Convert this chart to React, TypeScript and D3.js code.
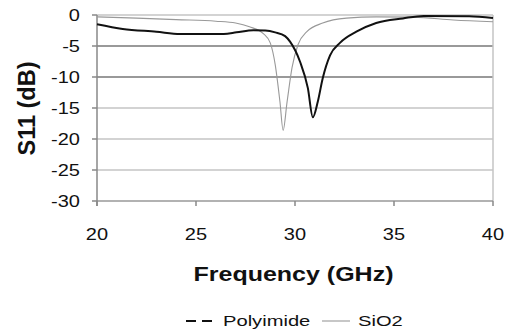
import { scaleLinear, line, curveMonotoneX } from 'd3';

// S11 traces
const polyFreq = [20, 21.3, 23, 24.2, 26.4, 27.05, 27.9, 28.5, 29, 29.5, 29.75, 30.25, 30.65, 30.9, 31.15, 31.4, 31.77, 32.27, 33.1, 34.1, 35.45, 36.5, 38.8, 40];
const polyS11 = [-1.5, -2.25, -2.7, -3.05, -3.05, -2.8, -2.45, -2.5, -2.8, -3.4, -4.3, -7.5, -11.8, -16.5, -14, -10.2, -6.5, -4.5, -2.7, -1.3, -0.55, -0.15, -0.2, -0.5];

const sioFreq = [20, 22, 24, 26, 27, 27.7, 28.4, 28.75, 29, 29.24, 29.4, 29.6, 29.85, 30.15, 30.6, 31.4, 32.6, 34.1, 36, 38, 40];
const sioS11 = [-0.3, -0.5, -0.75, -1.0, -1.3, -1.9, -3.0, -4.5, -8, -14, -18.6, -14, -8.5, -4.8, -2.7, -1.3, -0.5, -0.3, -0.35, -0.8, -1.1];

const xTicks = [20, 25, 30, 35, 40];
const yTicks = [0, -5, -10, -15, -20, -25, -30];
const darkGrid = [-5, -10];

// the reference's text is rendered wide, so stretch it a bit
const wide = (px: number, py: number, k = 1.25) => `translate(${px},${py}) scale(${k},1)`;

export default function App() {
  const width = 508;
  const height = 333;
  const x = scaleLinear().domain([20, 40]).range([97, 493]);
  const y = scaleLinear().domain([-30, 0]).range([201, 15]);

  const polyLine = line<number>()
    .x((d) => x(d))
    .y((_, i) => y(polyS11[i]))
    .curve(curveMonotoneX)(polyFreq);
  const sioLine = line<number>()
    .x((d) => x(d))
    .y((_, i) => y(sioS11[i]))
    .curve(curveMonotoneX)(sioFreq);

  const font = 'Arial, "Liberation Sans", sans-serif';

  return (
    <svg
      width={width}
      height={height}
      style={{ position: 'absolute', left: 0, top: 0, background: '#fff' }}
      fontFamily={font}
    >
      {yTicks.map((t) => (
        <g key={t}>
          {t > -30 && (
            <line
              x1={x(20)}
              x2={x(40)}
              y1={y(t)}
              y2={y(t)}
              stroke={darkGrid.includes(t) ? '#777' : '#c4c4c4'}
              strokeWidth={1.5}
            />
          )}
          <line x1={x(20) - 5} x2={x(20)} y1={y(t)} y2={y(t)} stroke="#888" strokeWidth={1.5} />
          <text transform={wide(80, y(t))} dy="0.36em" textAnchor="end" fontSize={16} fill="#111">
            {t}
          </text>
        </g>
      ))}
      <line x1={x(40)} x2={x(40)} y1={y(0)} y2={y(-30)} stroke="#c4c4c4" strokeWidth={1.5} />
      <line x1={x(20)} x2={x(40)} y1={y(-30)} y2={y(-30)} stroke="#999" strokeWidth={1.5} />
      <line x1={x(20)} x2={x(20)} y1={y(0)} y2={y(-30) + 5} stroke="#888" strokeWidth={1.5} />
      {xTicks.map((t) => (
        <g key={t}>
          <line x1={x(t)} x2={x(t)} y1={y(-30)} y2={y(-30) + 5} stroke="#888" strokeWidth={1.5} />
          <text transform={wide(x(t), 239.5)} textAnchor="middle" fontSize={16} fill="#111">
            {t}
          </text>
        </g>
      ))}

      <path d={sioLine ?? ''} fill="none" stroke="#999" strokeWidth={1.1} />
      <path d={polyLine ?? ''} fill="none" stroke="#111" strokeWidth={2} />

      <text transform={wide(293.5, 281)} textAnchor="middle" fontSize={20} fontWeight="bold" fill="#111">
        Frequency (GHz)
      </text>
      <text
        transform="translate(35, 108.5) rotate(-90)"
        textAnchor="middle"
        fontSize={23.5}
        fontWeight="bold"
        fill="#111"
      >
        S11 (dB)
      </text>

      <line x1={186} x2={217} y1={321} y2={321} stroke="#111" strokeWidth={2} strokeDasharray="10,6" />
      <text transform={wide(223, 326, 1.3)} fontSize={15.5} fill="#111">
        Polyimide
      </text>
      <line x1={322} x2={350} y1={321} y2={321} stroke="#999" strokeWidth={1.1} />
      <text transform={wide(358, 326, 1.3)} fontSize={15.5} fill="#111">
        SiO2
      </text>
    </svg>
  );
}
